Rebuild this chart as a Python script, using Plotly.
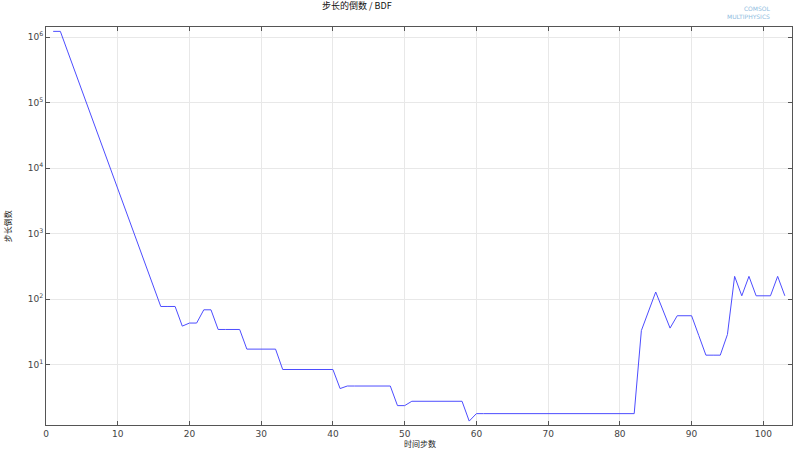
import plotly.graph_objects as go

# time step number vs reciprocal of step size
steps = list(range(1, 104))
recip = [
    1.22e6, 1.22e6, 6.1e5, 3.05e5, 1.52e5, 7.6e4, 3.8e4, 1.9e4, 9.5e3, 4.75e3,
    2.38e3, 1.19e3, 595, 298, 149, 77, 77, 77, 38.6, 43,
    43, 68.5, 68.5, 34.3, 34.3, 34.3, 34.3, 17.2, 17.2, 17.2,
    17.2, 17.2, 8.4, 8.4, 8.4, 8.4, 8.4, 8.4, 8.4, 8.4,
    4.3, 4.7, 4.7, 4.7, 4.7, 4.7, 4.7, 4.7, 2.36, 2.36,
    2.75, 2.75, 2.75, 2.75, 2.75, 2.75, 2.75, 2.75, 1.37, 1.78,
    1.78, 1.78, 1.78, 1.78, 1.78, 1.78, 1.78, 1.78, 1.78, 1.78,
    1.78, 1.78, 1.78, 1.78, 1.78, 1.78, 1.78, 1.78, 1.78, 1.78,
    1.78, 1.78, 33, 65, 128, 68, 36, 55.6, 55.6, 55.6,
    27.8, 13.9, 13.9, 13.9, 28.8, 222, 112, 222, 112, 112,
    112, 222, 112,
]

x_ticks = [0, 10, 20, 30, 40, 50, 60, 70, 80, 90, 100]
y_ticks = [1e1, 1e2, 1e3, 1e4, 1e5, 1e6]
y_ticktext = ["10<sup>%d</sup>" % i for i in range(1, 7)]

title_text = "步长的倒数 / BDF"
x_title = "时间步数"
y_title = "步长倒数"

font_family = "Noto Sans CJK SC, DejaVu Sans, sans-serif"

fig = go.Figure()
fig.add_trace(go.Scatter(
    x=steps, y=recip, mode="lines",
    line=dict(color="#4d4dff", width=1),
    showlegend=False,
))

axis_common = dict(
    showline=True, linecolor="#555555", linewidth=1, mirror="ticks",
    ticks="inside", ticklen=4, tickcolor="#555555",
    showgrid=True, gridcolor="#e8e8e8", gridwidth=1, zeroline=False,
    automargin=False,
    tickfont=dict(size=9, color="#444444", family="DejaVu Sans"),
)

fig.update_layout(
    width=800, height=451,
    margin=dict(l=46, r=8, t=27, b=26),
    paper_bgcolor="white", plot_bgcolor="white",
    font=dict(family=font_family, size=9, color="#222222"),
    title=dict(text=title_text, x=0.446, xanchor="center", y=0.993, yanchor="top",
               font=dict(size=9, color="#111111")),
    xaxis=dict(range=[0, 104], tickvals=x_ticks, **axis_common),
    yaxis=dict(type="log", range=[0.077, 6.153], tickvals=y_ticks, ticktext=y_ticktext,
               **axis_common),
)

# axis titles
fig.add_annotation(
    xref="paper", yref="paper", x=0.502, y=-0.046, xanchor="center", yanchor="middle",
    text=x_title, showarrow=False, font=dict(size=8, color="#222222"),
)
fig.add_annotation(
    xref="paper", yref="paper", x=-0.052, y=0.5, xanchor="center", yanchor="middle",
    text=y_title, showarrow=False, textangle=-90, font=dict(size=8, color="#222222"),
)

# COMSOL logo text in the corner
fig.add_annotation(
    xref="paper", yref="paper", x=0.975, y=1.06, xanchor="right", yanchor="top",
    text="COMSOL<br>MULTIPHYSICS", showarrow=False, align="right",
    font=dict(size=6, color="#90bce0", family="DejaVu Sans"),
)

fig.write_html("out.html", config={"displayModeBar": False},
               post_script="document.body.style.margin='0';")
